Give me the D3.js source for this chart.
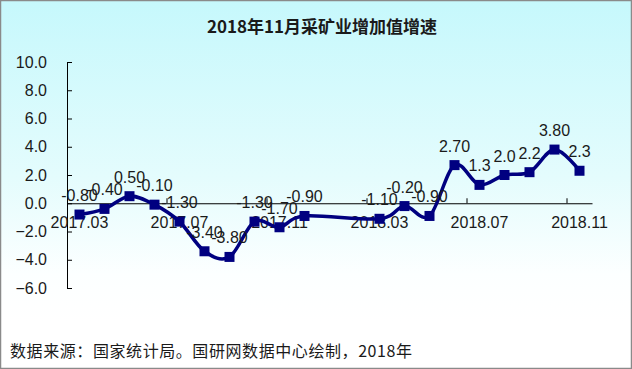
<!DOCTYPE html>
<html>
<head>
<meta charset="utf-8">
<script src="https://cdn.jsdelivr.net/npm/d3@7"></script>
<style>
html,body{margin:0;padding:0;background:#fff;}
svg{display:block;}
</style>
</head>
<body>
<svg id="chart" width="632" height="369"></svg>
<script>
const categories = ["2017.03","2017.04","2017.05","2017.06","2017.07","2017.08","2017.09","2017.10","2017.11","2017.12","2018.01","2018.02","2018.03","2018.04","2018.05","2018.06","2018.07","2018.08","2018.09","2018.10","2018.11"];
const values = [-0.8,-0.4,0.5,-0.1,-1.3,-3.4,-3.8,-1.3,-1.7,-0.9,null,null,-1.1,-0.2,-0.9,2.7,1.3,2.0,2.2,3.8,2.3];
const valueLabels = ["-0.80","-0.40","0.50","-0.10","-1.30","-3.40","-3.80","-1.30","-1.70","-0.90",null,null,"-1.10","-0.20","-0.90","2.70","1.3","2.0","2.2","3.80","2.3"];
const xTickLabels = ["2017.03","2017.07","2017.11","2018.03","2018.07","2018.11"];
const yTicks = [-6,-4,-2,0,2,4,6,8,10];
const title = "2018年11月采矿业增加值增速";
const source = "数据来源：国家统计局。国研网数据中心绘制，2018年";

const svg = d3.select("#chart");
const W = 632, H = 369;
const navy = "#000080";
const txt = "#1a1a1a";
const latin = "'Liberation Sans', Arial, sans-serif";
const cjk = "'Noto Sans CJK SC', 'Liberation Sans', sans-serif";

// background
const defs = svg.append("defs");
const grad = defs.append("linearGradient").attr("id","bg")
  .attr("x1",0).attr("y1",0).attr("x2",0).attr("y2",1);
grad.append("stop").attr("offset","0%").attr("stop-color","#c6f8fc");
grad.append("stop").attr("offset","55%").attr("stop-color","#e4fcfd");
grad.append("stop").attr("offset","85%").attr("stop-color","#fcffff");
grad.append("stop").attr("offset","100%").attr("stop-color","#ffffff");
svg.append("rect").attr("x",0).attr("y",0).attr("width",W).attr("height",H).attr("fill","#fff");
svg.append("rect").attr("x",0).attr("y",0).attr("width",W).attr("height",322).attr("fill","url(#bg)");
svg.append("rect").attr("x",0.5).attr("y",0.5).attr("width",W-1).attr("height",H-1)
  .attr("fill","none").attr("stroke","#8a8a8a").attr("stroke-width",1.5);

// title
svg.append("text").attr("x",322).attr("y",25).attr("text-anchor","middle")
  .attr("dominant-baseline","central").attr("font-family",cjk).attr("font-weight","bold")
  .attr("font-size",17).attr("fill",txt).text(title);

// scales
const x = d3.scaleBand().domain(categories).range([67,592]).padding(0);
const y = d3.scaleLinear().domain([-6,10]).range([288,62]);
const cx = c => x(c) + x.bandwidth()/2;

// y axis
const yAxis = svg.append("g").attr("transform","translate(67,0)")
  .call(d3.axisLeft(y).tickValues(yTicks).tickFormat(d3.format(".1f"))
    .tickSizeInner(-5).tickSizeOuter(0).tickPadding(20));
yAxis.select(".domain").attr("stroke","#000").attr("stroke-width",1);
yAxis.selectAll(".tick line").attr("stroke","#000");
yAxis.selectAll("text").attr("font-family",latin).attr("font-size",16).attr("fill",txt);

// x axis (labels at category centers)
const xAxis = svg.append("g").attr("transform",`translate(0,${y(0)})`)
  .call(d3.axisBottom(x).tickValues(xTickLabels).tickSize(0).tickPadding(13));
xAxis.select(".domain").attr("stroke","#000").attr("stroke-width",1);
xAxis.selectAll("text").attr("font-family",latin).attr("font-size",16).attr("fill",txt);
// x tick marks at category boundaries
svg.append("g").selectAll("line")
  .data(xTickLabels.slice(1))
  .join("line")
  .attr("x1",d=>x(d)).attr("x2",d=>x(d))
  .attr("y1",y(0)).attr("y2",y(0)-5)
  .attr("stroke","#000");

// line
const pts = categories.map((c,i)=>({c, v: values[i], l: valueLabels[i]})).filter(d=>d.v!==null);
const line = d3.line().x(d=>cx(d.c)).y(d=>y(d.v)).curve(d3.curveCatmullRom.alpha(0));
svg.append("path").datum(pts).attr("d",line)
  .attr("fill","none").attr("stroke",navy).attr("stroke-width",3.5);

// markers
svg.append("g").selectAll("rect").data(pts).join("rect")
  .attr("x",d=>cx(d.c)-5).attr("y",d=>y(d.v)-5)
  .attr("width",10).attr("height",10).attr("fill",navy);

// data labels
svg.append("g").selectAll("text").data(pts).join("text")
  .attr("x",d=>cx(d.c)).attr("y",d=>y(d.v)-19)
  .attr("text-anchor","middle").attr("dominant-baseline","central")
  .attr("font-family",latin).attr("font-size",16).attr("fill",txt)
  .text(d=>d.l);

// source
svg.append("text").attr("x",10).attr("y",350).attr("dominant-baseline","central")
  .attr("font-family",cjk).attr("font-size",16).attr("fill",txt)
  .attr("textLength",402).attr("lengthAdjust","spacing")
  .text(source);
</script>
</body>
</html>
